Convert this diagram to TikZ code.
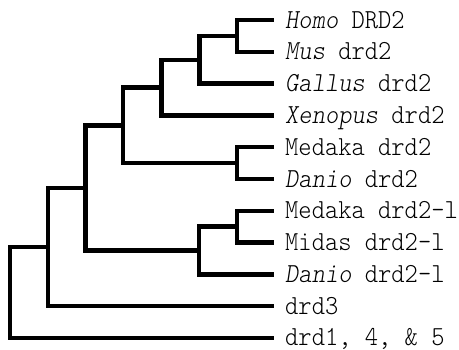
\documentclass[tikz,border=0pt]{standalone}
\usepackage{fontspec}
\setmonofont{lmmonolt10-regular.otf}[FakeStretch=0.92, ItalicFont=lmmonolt10-oblique.otf]
\begin{document}
\begin{tikzpicture}[x=1pt, y=-1pt,
  branch/.style={line width=4.5pt, line join=miter, line cap=rect},
  taxon/.style={anchor=base west, inner sep=0pt, font=\fontsize{27.5}{30}\selectfont\ttfamily}]
\useasboundingbox (0,0) rectangle (459,349);
% leaf tips
\foreach \n/\yy in {l1/20, l2/51.8, l3/83.6, l4/115.4, l5/147.2, l6/179,
                    l7/210.8, l8/242.6, l9/274.4, l10/306.2, l11/338}
  \coordinate (\n) at (272,\yy);
% internal nodes
\coordinate (a) at (237,35.9);
\coordinate (b) at (199.5,59.8);
\coordinate (c) at (161.5,87.6);
\coordinate (d) at (237,163.1);
\coordinate (e) at (123,125.3);
\coordinate (f) at (237,226.7);
\coordinate (g) at (199,250.5);
\coordinate (h) at (85.5,187.9);
\coordinate (i) at (48,247.2);
\coordinate (r) at (10,292.6);
% branches
\draw[branch] (l1) -| (a) |- (l2);
\draw[branch] (a) -| (b) |- (l3);
\draw[branch] (b) -| (c) |- (l4);
\draw[branch] (l5) -| (d) |- (l6);
\draw[branch] (c) -| (e) |- (d);
\draw[branch] (l7) -| (f) |- (l8);
\draw[branch] (f) -| (g) |- (l9);
\draw[branch] (e) -| (h) |- (g);
\draw[branch] (h) -| (i) |- (l10);
\draw[branch] (i) -| (r) |- (l11);
% taxon labels
\node[taxon] (t1) at (285,28) {\textit{Homo} DRD2};
\node[taxon] (t2) at (285,59.8) {\textit{Mus} drd2};
\node[taxon] (t3) at (285,91.6) {\textit{Gallus} drd2};
\node[taxon] (t4) at (285,123.4) {\textit{Xenopus} drd2};
\node[taxon] (t5) at (285,155.2) {Medaka drd2};
\node[taxon] (t6) at (285,187) {\textit{Danio} drd2};
\node[taxon] (t7) at (285,218.8) {Medaka drd2-l};
\node[taxon] (t8) at (285,250.6) {Midas drd2-l};
\node[taxon] (t9) at (285,282.4) {\textit{Danio} drd2-l};
\node[taxon] (t10) at (285,314.2) {drd3};
\node[taxon] (t11) at (285,345.5) {drd1, 4, \& 5};
\end{tikzpicture}
\end{document}
